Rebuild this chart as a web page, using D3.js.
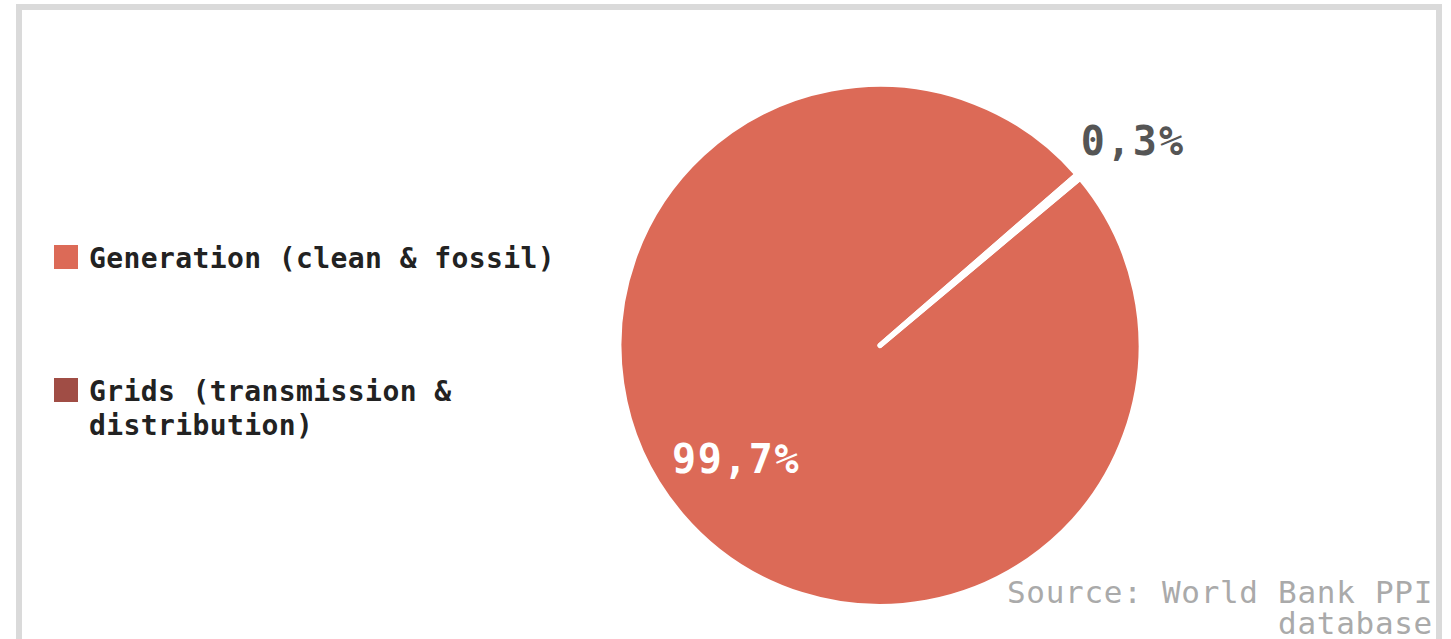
<!DOCTYPE html>
<html>
<head>
<meta charset="utf-8">
<script src="https://cdn.jsdelivr.net/npm/d3@7"></script>
<style>
  html, body { margin: 0; padding: 0; background: #fff; }
  svg { display: block; }
</style>
</head>
<body>
<svg id="chart" width="1451" height="639"></svg>
<script>
// data
const categories = ['Generation (clean & fossil)', 'Grids (transmission & distribution)']
const legendLines = [['Generation (clean & fossil)'], ['Grids (transmission &', 'distribution)']]
const values = [99.7, 0.3]
const valueLabels = ['99,7%', '0,3%']
const colors = ['#dc6a57', '#a04d45']
const sourceLines = ['Source: World Bank PPI', 'database']

const font = "'DejaVu Sans Mono', 'Liberation Mono', monospace"

const svg = d3.select('#chart')

// frame
svg.append('rect')
  .attr('x', 19)
  .attr('y', 7)
  .attr('width', 1420)
  .attr('height', 700)
  .attr('fill', '#fff')
  .attr('stroke', '#dadada')
  .attr('stroke-width', 6)

// pie
const cx = 880
const cy = 345.5
const radius = 261
const startAngle = (50.1 * Math.PI) / 180

const pie = d3.pie()
  .sort(null)
  .value((d) => d)
  .startAngle(startAngle)
  .endAngle(startAngle + Math.PI * 2)

const arcs = pie(values)
const arcGen = d3.arc().innerRadius(0).outerRadius(radius)

const pieG = svg.append('g').attr('transform', `translate(${cx},${cy})`)

pieG.selectAll('path')
  .data(arcs)
  .join('path')
  .attr('d', arcGen)
  .attr('fill', (d, i) => colors[i])
  .attr('stroke', '#fff')
  .attr('stroke-width', 5)
  .attr('stroke-linejoin', 'round')

// value labels
// big slice label sits lower left, small one just outside the rim
pieG.append('text')
  .attr('x', -144)
  .attr('y', 127)
  .attr('fill', '#fff')
  .attr('font-family', font)
  .attr('font-weight', 'bold')
  .attr('font-size', 40)
  .attr('letter-spacing', 1.5)
  .attr('text-anchor', 'middle')
  .text(valueLabels[0])

const smallMid = (arcs[1].startAngle + arcs[1].endAngle) / 2
pieG.append('text')
  .attr('x', Math.sin(smallMid) * radius + 2)
  .attr('y', -Math.cos(smallMid) * radius - 21)
  .attr('fill', '#555')
  .attr('font-family', font)
  .attr('font-weight', 'bold')
  .attr('font-size', 40)
  .attr('letter-spacing', 2)
  .attr('text-anchor', 'start')
  .text(valueLabels[1])

// legend
const legend = svg.append('g').attr('transform', 'translate(54,245)')
const legendY = [0, 133]

const items = legend.selectAll('g')
  .data(categories)
  .join('g')
  .attr('transform', (d, i) => `translate(0,${legendY[i]})`)

items.append('rect')
  .attr('width', 24)
  .attr('height', 24)
  .attr('fill', (d, i) => colors[i])

items.append('text')
  .attr('x', 35)
  .attr('y', 23)
  .attr('fill', '#222')
  .attr('font-family', font)
  .attr('font-weight', 'bold')
  .attr('font-size', 28)
  .attr('letter-spacing', 0.4)
  .selectAll('tspan')
  .data((d, i) => legendLines[i])
  .join('tspan')
  .attr('x', 35)
  .attr('dy', (d, i) => (i ? 34 : 0))
  .text((d) => d)

// source
svg.append('text')
  .attr('x', 1433)
  .attr('y', 603)
  .attr('fill', '#aaa')
  .attr('font-family', font)
  .attr('font-size', 31)
  .attr('letter-spacing', 0.7)
  .attr('text-anchor', 'end')
  .selectAll('tspan')
  .data(sourceLines)
  .join('tspan')
  .attr('x', 1433)
  .attr('dy', (d, i) => (i ? 31 : 0))
  .text((d) => d)
</script>
</body>
</html>
